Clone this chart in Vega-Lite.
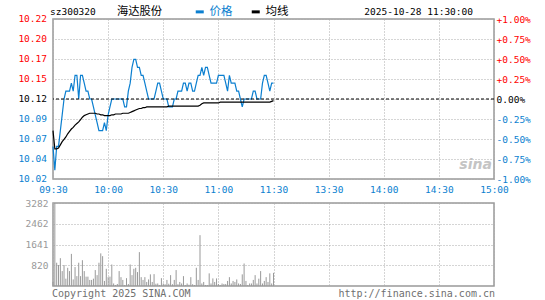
{
  "$schema": "https://vega.github.io/schema/vega-lite/v6.json",
  "background": "white",
  "padding": {"left": 17, "top": 5, "right": 5, "bottom": 3},
  "bounds": "flush",
  "spacing": 24,
  "config": {
    "view": {"stroke": "#999999", "strokeWidth": 1.5},
    "axis": {"labelFont": "DejaVu Sans Mono", "labelFontSize": 9.5, "ticks": false, "domain": false, "gridColor": "#aaaaaa", "gridDash": [1, 2], "gridWidth": 1}
  },
  "datasets": {
    "min": [
      {"m":0,"p":10.06,"a":10.080,"v":160},{"m":1,"p":10.03,"a":10.057,"v":3282},{"m":2,"p":10.06,"a":10.057,"v":920},{"m":3,"p":10.06,"a":10.058,"v":830},{"m":4,"p":10.08,"a":10.062,"v":1100},
      {"m":5,"p":10.10,"a":10.066,"v":590},{"m":6,"p":10.12,"a":10.069,"v":830},{"m":7,"p":10.13,"a":10.072,"v":290},{"m":8,"p":10.13,"a":10.076,"v":720},{"m":9,"p":10.13,"a":10.079,"v":590},
      {"m":10,"p":10.14,"a":10.082,"v":1270},{"m":11,"p":10.13,"a":10.084,"v":260},{"m":12,"p":10.15,"a":10.087,"v":750},{"m":13,"p":10.15,"a":10.089,"v":390},{"m":14,"p":10.12,"a":10.091,"v":920},
      {"m":15,"p":10.15,"a":10.094,"v":390},{"m":16,"p":10.15,"a":10.097,"v":1020},{"m":17,"p":10.14,"a":10.099,"v":590},{"m":18,"p":10.13,"a":10.100,"v":370},{"m":19,"p":10.13,"a":10.101,"v":370},
      {"m":20,"p":10.12,"a":10.102,"v":240},{"m":21,"p":10.12,"a":10.102,"v":240},{"m":22,"p":10.11,"a":10.102,"v":290},{"m":23,"p":10.10,"a":10.102,"v":630},{"m":24,"p":10.09,"a":10.101,"v":430},
      {"m":25,"p":10.08,"a":10.101,"v":920},{"m":26,"p":10.08,"a":10.100,"v":1290},{"m":27,"p":10.08,"a":10.100,"v":1180},{"m":28,"p":10.09,"a":10.099,"v":200},{"m":29,"p":10.08,"a":10.099,"v":680},
      {"m":30,"p":10.10,"a":10.099,"v":350},{"m":31,"p":10.11,"a":10.099,"v":370},{"m":32,"p":10.12,"a":10.100,"v":850},{"m":33,"p":10.12,"a":10.100,"v":100},{"m":34,"p":10.12,"a":10.101,"v":40},
      {"m":35,"p":10.12,"a":10.101,"v":80},{"m":36,"p":10.12,"a":10.101,"v":590},{"m":37,"p":10.12,"a":10.101,"v":350},{"m":38,"p":10.12,"a":10.102,"v":240},{"m":39,"p":10.11,"a":10.102,"v":40},
      {"m":40,"p":10.11,"a":10.102,"v":310},{"m":41,"p":10.13,"a":10.102,"v":80},{"m":42,"p":10.14,"a":10.103,"v":850},{"m":43,"p":10.16,"a":10.104,"v":430},{"m":44,"p":10.17,"a":10.105,"v":680},
      {"m":45,"p":10.17,"a":10.106,"v":720},{"m":46,"p":10.16,"a":10.107,"v":550},{"m":47,"p":10.16,"a":10.108,"v":1340},{"m":48,"p":10.15,"a":10.108,"v":350},{"m":49,"p":10.15,"a":10.109,"v":240},
      {"m":50,"p":10.14,"a":10.109,"v":350},{"m":51,"p":10.13,"a":10.110,"v":160},{"m":52,"p":10.12,"a":10.110,"v":260},{"m":53,"p":10.12,"a":10.110,"v":460},{"m":54,"p":10.12,"a":10.110,"v":160},
      {"m":55,"p":10.12,"a":10.110,"v":470},{"m":56,"p":10.13,"a":10.110,"v":90},{"m":57,"p":10.14,"a":10.110,"v":100},{"m":58,"p":10.14,"a":10.110,"v":40},{"m":59,"p":10.13,"a":10.110,"v":310},
      {"m":60,"p":10.12,"a":10.110,"v":100},{"m":61,"p":10.12,"a":10.110,"v":70},{"m":62,"p":10.12,"a":10.110,"v":240},{"m":63,"p":10.11,"a":10.111,"v":90},{"m":64,"p":10.11,"a":10.111,"v":430},
      {"m":65,"p":10.11,"a":10.111,"v":70},{"m":66,"p":10.12,"a":10.111,"v":240},{"m":67,"p":10.12,"a":10.111,"v":630},{"m":68,"p":10.13,"a":10.111,"v":70},{"m":69,"p":10.13,"a":10.111,"v":160},
      {"m":70,"p":10.13,"a":10.111,"v":100},{"m":71,"p":10.14,"a":10.111,"v":390},{"m":72,"p":10.14,"a":10.111,"v":40},{"m":73,"p":10.13,"a":10.111,"v":100},{"m":74,"p":10.14,"a":10.111,"v":50},
      {"m":75,"p":10.14,"a":10.111,"v":350},{"m":76,"p":10.13,"a":10.111,"v":70},{"m":77,"p":10.13,"a":10.111,"v":40},{"m":78,"p":10.14,"a":10.111,"v":720},{"m":79,"p":10.15,"a":10.111,"v":240},
      {"m":80,"p":10.15,"a":10.112,"v":2010},{"m":81,"p":10.16,"a":10.114,"v":100},{"m":82,"p":10.15,"a":10.115,"v":160},{"m":83,"p":10.16,"a":10.115,"v":40},{"m":84,"p":10.16,"a":10.115,"v":40},
      {"m":85,"p":10.15,"a":10.115,"v":500},{"m":86,"p":10.14,"a":10.115,"v":100},{"m":87,"p":10.14,"a":10.115,"v":300},{"m":88,"p":10.14,"a":10.115,"v":160},{"m":89,"p":10.14,"a":10.115,"v":300},
      {"m":90,"p":10.15,"a":10.115,"v":80},{"m":91,"p":10.15,"a":10.116,"v":40},{"m":92,"p":10.15,"a":10.116,"v":100},{"m":93,"p":10.15,"a":10.116,"v":80},{"m":94,"p":10.14,"a":10.116,"v":80},
      {"m":95,"p":10.13,"a":10.116,"v":200},{"m":96,"p":10.15,"a":10.116,"v":350},{"m":97,"p":10.14,"a":10.116,"v":100},{"m":98,"p":10.14,"a":10.116,"v":200},{"m":99,"p":10.14,"a":10.116,"v":160},
      {"m":100,"p":10.13,"a":10.116,"v":260},{"m":101,"p":10.13,"a":10.116,"v":100},{"m":102,"p":10.12,"a":10.116,"v":80},{"m":103,"p":10.11,"a":10.116,"v":460},{"m":104,"p":10.12,"a":10.116,"v":890},
      {"m":105,"p":10.12,"a":10.116,"v":200},{"m":106,"p":10.12,"a":10.116,"v":40},{"m":107,"p":10.12,"a":10.116,"v":100},{"m":108,"p":10.12,"a":10.116,"v":100},{"m":109,"p":10.13,"a":10.116,"v":240},
      {"m":110,"p":10.13,"a":10.116,"v":430},{"m":111,"p":10.12,"a":10.116,"v":100},{"m":112,"p":10.12,"a":10.116,"v":290},{"m":113,"p":10.12,"a":10.116,"v":590},{"m":114,"p":10.14,"a":10.116,"v":100},
      {"m":115,"p":10.15,"a":10.116,"v":200},{"m":116,"p":10.15,"a":10.116,"v":350},{"m":117,"p":10.14,"a":10.116,"v":160},{"m":118,"p":10.13,"a":10.116,"v":500},{"m":119,"p":10.14,"a":10.117,"v":100},
      {"m":120,"p":10.14,"a":10.118,"v":520}
    ]
  },
  "vconcat": [
    {
      "width": 441,
      "height": 160,
      "layer": [
        {
          "data": {"name": "min"},
          "transform": [{"fold": ["p", "a"], "as": ["s", "val"]}],
          "mark": {"type": "line", "strokeWidth": 1.2},
          "encoding": {
            "x": {"field": "m", "type": "quantitative", "scale": {"domain": [0, 240], "nice": false, "zero": false},
              "axis": {"title": null, "values": [0, 30, 60, 90, 120, 150, 180, 210, 240], "labelExpr": "['09:30','10:00','10:30','11:00','11:30','13:30','14:00','14:30','15:00'][round(datum.value/30)]", "labelColor": "#0b7fd0", "labelPadding": 5, "grid": true, "labelFlush": false, "labelOverlap": false}},
            "y": {"field": "val", "type": "quantitative", "scale": {"domain": [10.0188, 10.2212], "nice": false, "zero": false}, "axis": null},
            "color": {"field": "s", "type": "nominal", "scale": {"domain": ["p", "a"], "range": ["#0b7fd0", "#000000"]},
              "legend": {"title": null, "orient": "none", "legendX": 141, "legendY": -13, "direction": "horizontal", "symbolType": "stroke", "symbolSize": 64, "symbolStrokeWidth": 3, "labelFont": "Noto Sans CJK SC", "labelFontSize": 11.5, "labelOffset": 4, "columnPadding": 12, "padding": 0,
                "labelExpr": "datum.value === 'p' ? '价格' : '均线'",
                "encode": {"labels": {"update": {"fill": {"signal": "datum.value === 'p' ? '#0b7fd0' : '#000000'"}}}}}}
          }
        },
        {
          "data": {"values": [{}]},
          "mark": {"type": "rule", "color": "#000000", "strokeWidth": 1, "strokeDash": [3, 2]},
          "encoding": {
            "y": {"datum": 10.12, "type": "quantitative", "scale": {"domain": [10.0188, 10.2212], "nice": false, "zero": false}, "axis": null}
          }
        },
        {
          "data": {"values": [
            {"price": 10.2212, "dir": "up"}, {"price": 10.1959, "dir": "up"}, {"price": 10.1706, "dir": "up"}, {"price": 10.1453, "dir": "up"},
            {"price": 10.12, "dir": "flat"},
            {"price": 10.0947, "dir": "down"}, {"price": 10.0694, "dir": "down"}, {"price": 10.0441, "dir": "down"}, {"price": 10.0188, "dir": "down"}
          ]},
          "mark": {"type": "text", "align": "right", "baseline": "middle", "dx": -6, "font": "DejaVu Sans Mono", "fontSize": 9.5},
          "encoding": {
            "x": {"datum": 0, "type": "quantitative"},
            "y": {"field": "price", "type": "quantitative", "scale": {"domain": [10.0188, 10.2212], "nice": false, "zero": false}, "axis": null},
            "text": {"field": "price", "type": "quantitative", "format": ".2f"},
            "color": {"field": "dir", "type": "nominal", "scale": {"domain": ["up", "flat", "down"], "range": ["#ff0000", "#000000", "#0b7fd0"]}, "legend": null}
          }
        },
        {
          "data": {"values": [{}]},
          "mark": {"type": "rule", "strokeOpacity": 0},
          "encoding": {
            "y": {"datum": 0, "type": "quantitative", "scale": {"domain": [-1, 1], "nice": false, "zero": false},
              "axis": {"title": null, "orient": "right", "values": [-1, -0.75, -0.5, -0.25, 0, 0.25, 0.5, 0.75, 1], "labelExpr": "(datum.value > 0 ? '+' : (datum.value < 0 ? '-' : '')) + format(abs(datum.value), '.2f') + '%'", "labelPadding": 2, "grid": true, "labelFlush": false, "labelOverlap": false,
                "labelColor": {"condition": [{"test": "datum.value > 0.001", "value": "#ff0000"}, {"test": "datum.value < -0.001", "value": "#0b7fd0"}], "value": "#000000"}}}
          }
        },
        {
          "data": {"values": [{"t": "sz300320"}]},
          "mark": {"type": "text", "align": "left", "baseline": "middle", "dx": -3, "font": "DejaVu Sans Mono", "fontSize": 9.5, "color": "#000000"},
          "encoding": {"x": {"datum": 0, "type": "quantitative"}, "y": {"datum": 10.2301, "type": "quantitative", "scale": {"domain": [10.0188, 10.2212], "nice": false, "zero": false}, "axis": null}, "text": {"field": "t"}}
        },
        {
          "data": {"values": [{"t": "海达股份"}]},
          "mark": {"type": "text", "align": "left", "baseline": "middle", "font": "Noto Sans CJK SC", "fontSize": 11.3, "color": "#000000"},
          "encoding": {"x": {"datum": 34.8, "type": "quantitative"}, "y": {"datum": 10.2301, "type": "quantitative", "scale": {"domain": [10.0188, 10.2212], "nice": false, "zero": false}, "axis": null}, "text": {"field": "t"}}
        },
        {
          "data": {"values": [{"t": "2025-10-28 11:30:00"}]},
          "mark": {"type": "text", "align": "right", "baseline": "middle", "dx": -21, "font": "DejaVu Sans Mono", "fontSize": 9.5, "color": "#000000"},
          "encoding": {"x": {"datum": 240, "type": "quantitative"}, "y": {"datum": 10.2301, "type": "quantitative", "scale": {"domain": [10.0188, 10.2212], "nice": false, "zero": false}, "axis": null}, "text": {"field": "t"}}
        },
        {
          "data": {"values": [{"t": "sina"}]},
          "mark": {"type": "text", "align": "center", "baseline": "middle", "font": "DejaVu Sans", "fontSize": 14, "fontStyle": "italic", "fontWeight": "bold", "color": "#c4c4c4"},
          "encoding": {"x": {"datum": 230, "type": "quantitative"}, "y": {"datum": 10.0365, "type": "quantitative", "scale": {"domain": [10.0188, 10.2212], "nice": false, "zero": false}, "axis": null}, "text": {"field": "t"}}
        }
      ],
      "resolve": {"scale": {"y": "independent", "color": "independent"}}
    },
    {
      "width": 441,
      "height": 83,
      "layer": [
        {
          "data": {"name": "min"},
          "mark": {"type": "rule", "color": "#999999", "strokeWidth": 1},
          "encoding": {
            "x": {"field": "m", "type": "quantitative", "scale": {"domain": [0, 240], "nice": false, "zero": false},
              "axis": {"title": null, "values": [0, 30, 60, 90, 120, 150, 180, 210, 240], "labels": false, "grid": true}},
            "y": {"field": "v", "type": "quantitative", "scale": {"domain": [0, 3282], "nice": false},
              "axis": {"title": null, "values": [820, 1641, 2462, 3282], "format": "d", "labelColor": "#999999", "labelPadding": 5, "grid": true, "labelFlush": false, "labelOverlap": false}},
            "y2": {"datum": 0}
          }
        },
        {
          "data": {"values": [{"t": "Copyright 2025 SINA.COM"}]},
          "mark": {"type": "text", "align": "left", "baseline": "middle", "dx": -1, "font": "DejaVu Sans Mono", "fontSize": 10, "color": "#707070"},
          "encoding": {"x": {"datum": 0, "type": "quantitative"}, "y": {"datum": -336, "type": "quantitative", "scale": {"domain": [0, 3282], "nice": false}, "axis": null}, "text": {"field": "t"}}
        },
        {
          "data": {"values": [{"t": "http://finance.sina.com.cn"}]},
          "mark": {"type": "text", "align": "right", "baseline": "middle", "dx": 1, "font": "DejaVu Sans Mono", "fontSize": 10, "color": "#707070"},
          "encoding": {"x": {"datum": 240, "type": "quantitative"}, "y": {"datum": -336, "type": "quantitative", "scale": {"domain": [0, 3282], "nice": false}, "axis": null}, "text": {"field": "t"}}
        }
      ],
      "resolve": {"scale": {"y": "independent"}}
    }
  ]
}
